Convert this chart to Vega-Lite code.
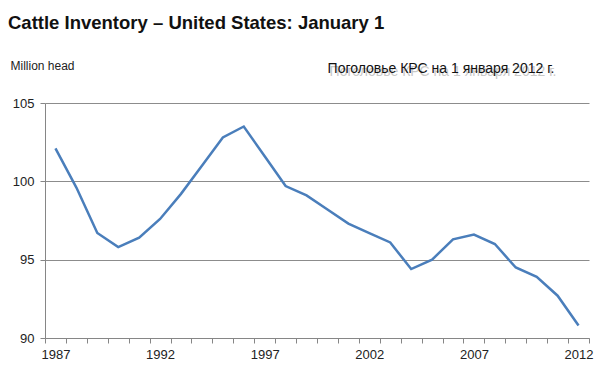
{
  "$schema": "https://vega.github.io/schema/vega-lite/v6.json",
  "width": 544,
  "height": 235,
  "autosize": "none",
  "padding": {"left": 45, "top": 103, "right": 18, "bottom": 43},
  "background": "white",
  "config": {"view": {"stroke": null}, "font": "Liberation Sans"},
  "title": {
    "text": "Cattle Inventory – United States: January 1",
    "anchor": "start",
    "frame": "group",
    "dx": -37,
    "offset": 27,
    "fontSize": 18.5,
    "fontWeight": "bold",
    "color": "#111111",
    "font": "Liberation Sans"
  },
  "data": {
    "values": [
      {"year": "1987", "head": 102.1},
      {"year": "1988", "head": 99.6},
      {"year": "1989", "head": 96.7},
      {"year": "1990", "head": 95.8},
      {"year": "1991", "head": 96.4},
      {"year": "1992", "head": 97.6},
      {"year": "1993", "head": 99.2},
      {"year": "1994", "head": 101.0},
      {"year": "1995", "head": 102.8},
      {"year": "1996", "head": 103.5},
      {"year": "1997", "head": 101.6},
      {"year": "1998", "head": 99.7},
      {"year": "1999", "head": 99.1},
      {"year": "2000", "head": 98.2},
      {"year": "2001", "head": 97.3},
      {"year": "2002", "head": 96.7},
      {"year": "2003", "head": 96.1},
      {"year": "2004", "head": 94.4},
      {"year": "2005", "head": 95.0},
      {"year": "2006", "head": 96.3},
      {"year": "2007", "head": 96.6},
      {"year": "2008", "head": 96.0},
      {"year": "2009", "head": 94.5},
      {"year": "2010", "head": 93.9},
      {"year": "2011", "head": 92.7},
      {"year": "2012", "head": 90.8}
    ]
  },
  "layer": [
    {
      "mark": {"type": "line", "color": "#4a7ebb", "strokeWidth": 2.5},
      "encoding": {
        "x": {
          "field": "year",
          "type": "ordinal",
          "scale": {"type": "band", "paddingInner": 0, "paddingOuter": 0},
          "axis": {
            "title": null,
            "labelAngle": 0,
            "labelExpr": "toNumber(datum.value) % 5 == 2 ? datum.label : ''",
            "tickBand": "extent",
            "ticks": true,
            "tickSize": 5,
            "tickColor": "#868686",
            "domainColor": "#868686",
            "labelFontSize": 13,
            "labelColor": "#222222",
            "labelPadding": 5,
            "labelFont": "Liberation Sans",
            "grid": false
          }
        },
        "y": {
          "field": "head",
          "type": "quantitative",
          "scale": {"domain": [90, 105], "nice": false, "zero": false},
          "axis": {
            "values": [90, 95, 100, 105],
            "title": "Million head",
            "titleAngle": 0,
            "titleAlign": "left",
            "titleBaseline": "alphabetic",
            "titleX": -35,
            "titleY": -34,
            "titleFontSize": 12,
            "titleFontWeight": "normal",
            "titleColor": "#222222",
            "titleFont": "Liberation Sans",
            "grid": true,
            "gridColor": "#8c8c8c",
            "gridWidth": 1,
            "tickSize": 5,
            "tickColor": "#868686",
            "domainColor": "#868686",
            "labelFontSize": 13,
            "labelColor": "#222222",
            "labelPadding": 6,
            "labelFont": "Liberation Sans"
          }
        }
      }
    },
    {
      "data": {"values": [{"note": "Поголовье КРС на 1 января 2012 г.", "year": "2006", "pos": 107.2}]},
      "mark": {"type": "text", "color": "#777777", "opacity": 0.4, "fontSize": 14, "font": "Liberation Sans", "dx": -10, "dy": 3, "clip": false},
      "encoding": {
        "x": {"field": "year", "type": "ordinal"},
        "y": {"field": "pos", "type": "quantitative"},
        "text": {"field": "note"}
      }
    },
    {
      "data": {"values": [{"note": "Поголовье КРС на 1 января 2012 г.", "year": "2006", "pos": 107.2}]},
      "mark": {"type": "text", "color": "#111111", "fontSize": 14, "font": "Liberation Sans", "dx": -12, "clip": false},
      "encoding": {
        "x": {"field": "year", "type": "ordinal"},
        "y": {"field": "pos", "type": "quantitative"},
        "text": {"field": "note"}
      }
    }
  ]
}
